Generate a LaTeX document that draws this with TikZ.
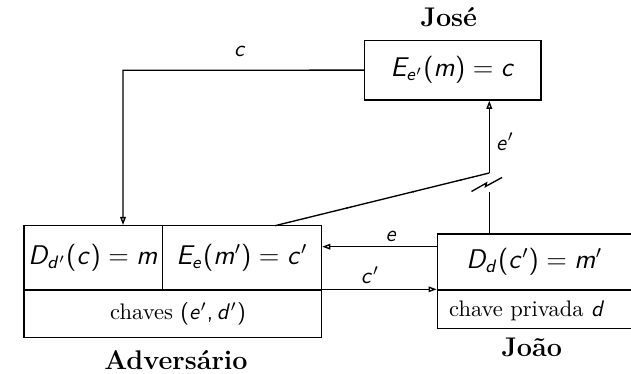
\documentclass[tikz,border=0pt]{standalone}
\DeclareSymbolFont{sfletters}{OT1}{cmss}{m}{sl}
\DeclareSymbolFont{sfupright}{OT1}{cmss}{m}{n}
\SetSymbolFont{letters}{normal}{OT1}{cmss}{m}{sl}
\SetSymbolFont{operators}{normal}{OT1}{cmss}{m}{n}
\DeclareMathSymbol{,}{\mathpunct}{sfupright}{"2C}
\DeclareMathSymbol{=}{\mathrel}{sfupright}{"3D}
\DeclareMathDelimiter{(}{\mathopen}{sfupright}{"28}{largesymbols}{"00}
\DeclareMathDelimiter{)}{\mathclose}{sfupright}{"29}{largesymbols}{"01}
\usetikzlibrary{arrows.meta,decorations.markings}
\def\u{0.4444pt}
\tikzset{
  box/.style={draw, line width=0.6pt, inner sep=0pt, font=\large},
  lbl/.style={inner sep=0pt, font=\large\bfseries},
  elbl/.style={inner sep=0pt},
  txt/.style={inner sep=0pt},
  conn/.style={line width=0.6pt},
  arr/.style={conn, -{Triangle[open,length=3.6pt,width=2.5pt]}},
  ticks/.style={conn, postaction={decorate}, decoration={markings,
     mark=at position 0.35 with {\arrow{Latex[length=1.6pt,width=0.9pt]}},
     mark=at position 0.66 with {\arrow{Latex[length=1.6pt,width=0.9pt]}},
     mark=at position 0.88 with {\arrow{Latex[length=1.6pt,width=0.9pt]}}}}
}
\begin{document}
\begin{tikzpicture}[x=\u, y=-\u]
\useasboundingbox (0,0) rectangle (631,374);
% Jose
\node[box, minimum width=176.3*\u, minimum height=59.7*\u] (jose) at (452.75,70.15) {$E_{e'}(m) = c$};
\node[lbl] (josel) at (448.7,17) {José};
% Adversario
\node[box, minimum width=138.3*\u, minimum height=64.3*\u] (adl) at (93.15,257.85) {$D_{d'}(c) = m$};
\node[box, minimum width=159.2*\u, minimum height=64.3*\u] (adr) at (241.9,257.85) {$E_e(m') = c'$};
\node[box, minimum width=297.5*\u, minimum height=47.3*\u] (adb) at (172.75,313.65) {};
\node[txt] (adbt) at (178,314) {chaves $(e', d')$};
\node[lbl] (advl) at (176,360) {Adversário};
% Joao
\node[box, minimum width=194*\u, minimum height=56*\u] (jt) at (534.3,262) {$D_d(c') = m'$};
\node[box, minimum width=194*\u, minimum height=38.3*\u] (jb) at (534.3,309.15) {};
\node[txt] (jbt) at (527,310.5) {chave privada $d$};
\node[lbl] (joaol) at (531.7,347) {João};
% coordinates
\coordinate (cx) at (123,70.3);
\coordinate (ex) at (489.3,0);
\coordinate (dg0) at (275,225.7);
\coordinate (dg1) at (489.3,173);
\coordinate (zb) at (489.3,191.7);
\coordinate (z1) at (471.5,191.5);
\coordinate (z2) at (486.5,183);
\coordinate (z3) at (485.5,186.5);
\coordinate (z4) at (502,177.5);
\coordinate (ey) at (0,246.7);
% connectors
\draw[arr] (jose.west) -- (cx) -- (cx |- adl.north);
\node[elbl] (cl) at (240,52) {$c$};
\draw[conn] (ex |- jt.north) -- (zb);
\draw[conn] (z1) -- (z2) -- (z3) -- (z4);
\draw[ticks] (dg0) -- (dg1);
\draw[arr] (dg1) -- (ex |- jose.south);
\node[elbl] (epl) at (505,141.7) {$e'$};
\draw[arr] (jt.west |- ey) -- (adr.east |- ey);
\node[elbl] (el) at (391.5,237) {$e$};
\draw[arr] (adb.north east) -- (jb.north west);
\node[elbl] (cpl) at (370,275.5) {$c'$};
\end{tikzpicture}
\end{document}
